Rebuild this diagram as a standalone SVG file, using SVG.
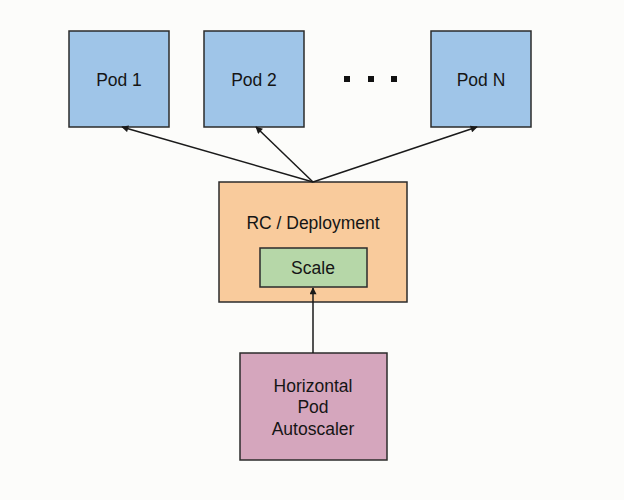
<svg xmlns="http://www.w3.org/2000/svg" width="624" height="500" viewBox="0 0 624 500">
<style>
.box{stroke:#2b2b2b;stroke-width:1.5}
.pod{fill:#9fc5e8}
.t{font-family:"Liberation Sans",Arial,sans-serif;font-size:17.5px;fill:#151515;text-anchor:middle}
.c{stroke:#1a1a1a;stroke-width:1.5;fill:none;marker-end:url(#ah)}
</style>
<defs>
<marker id="ah" viewBox="0 0 10 10" refX="9" refY="5" markerWidth="8" markerHeight="7" markerUnits="userSpaceOnUse" orient="auto">
<path d="M0,0 L10,5 L0,10 z" fill="#1a1a1a"/>
</marker>
</defs>
<rect width="624" height="500" fill="#fcfcfa"/>
<g id="pod1"><rect class="box pod" x="69" y="31" width="100" height="96"/><text class="t" x="119" y="86">Pod 1</text></g>
<g id="pod2"><rect class="box pod" x="204" y="31" width="100" height="96"/><text class="t" x="254" y="86">Pod 2</text></g>
<g id="dots" fill="#111"><rect x="344" y="76" width="6" height="6"/><rect x="368" y="76" width="6" height="6"/><rect x="391" y="76" width="6" height="6"/></g>
<g id="podN"><rect class="box pod" x="431" y="31" width="100" height="96"/><text class="t" x="481" y="86">Pod N</text></g>
<g id="rc"><rect class="box" fill="#f9cb9c" x="219" y="182" width="188" height="120"/><text class="t" x="313" y="229">RC / Deployment</text></g>
<g id="scale"><rect class="box" fill="#b6d7a8" x="260" y="248" width="107" height="39"/><text class="t" x="313" y="274">Scale</text></g>
<g id="hpa"><rect class="box" fill="#d5a6bd" x="240" y="353" width="147" height="107"/><text class="t" x="313" y="392">Horizontal</text><text class="t" x="313" y="413">Pod</text><text class="t" x="313" y="435">Autoscaler</text></g>
<g id="connectors">
<line class="c" x1="313" y1="182" x2="122" y2="127"/>
<line class="c" x1="313" y1="182" x2="256" y2="127"/>
<line class="c" x1="313" y1="182" x2="477" y2="127"/>
<line class="c" x1="313" y1="353" x2="313" y2="288"/>
</g>
</svg>
